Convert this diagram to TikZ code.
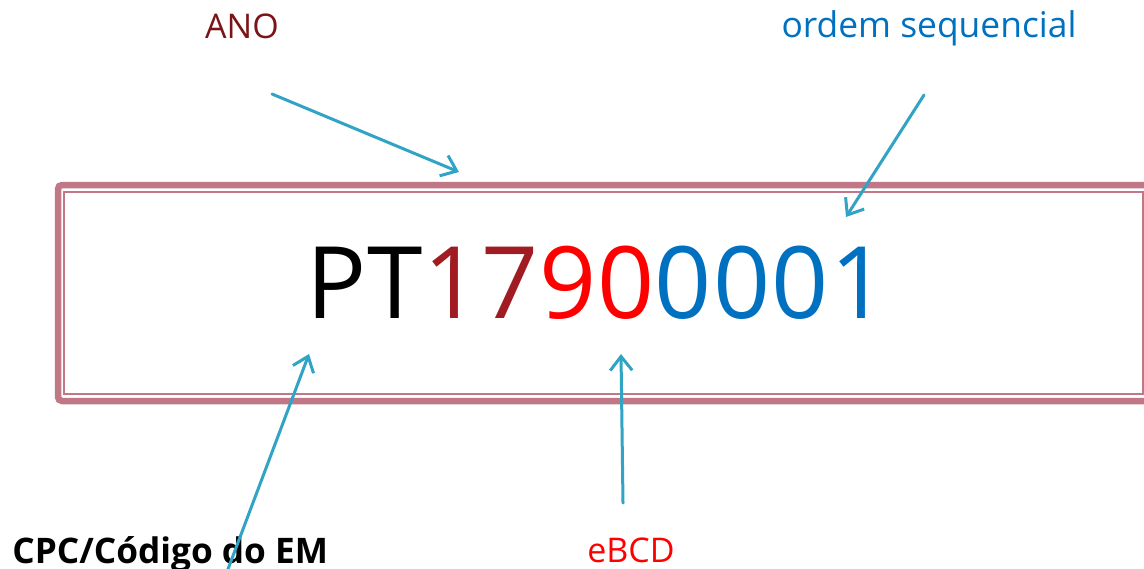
\documentclass[tikz,border=0pt]{standalone}
\usepackage{fontspec}
\setmainfont{Open Sans}
\usetikzlibrary{arrows.meta}
\definecolor{boxpink}{RGB}{192,120,135}
\definecolor{arrowcol}{RGB}{49,163,196}
\definecolor{anored}{RGB}{122,20,22}
\definecolor{darkred}{RGB}{160,28,34}
\definecolor{seqblue}{RGB}{0,112,192}
\tikzset{
  pointer/.style={draw=arrowcol, line width=1.5pt, line cap=round,
    -{Straight Barb[length=7pt,width=11pt,line width=1.5pt]}},
  lbl/.style={inner sep=0pt, font=\fontsize{17}{20}\selectfont},
}
\begin{document}
\begin{tikzpicture}[x=0.5pt,y=-0.5pt]
\useasboundingbox (0,0) rectangle (1144,568);
% frame
\draw[boxpink, line width=3.25pt, rounded corners=2pt] (58,185) rectangle (1160,401);
\draw[boxpink, line width=1.1pt] (64.3,191.7) rectangle (1143,393.7);
% code
\node[anchor=base, inner sep=0pt, font=\fontsize{50}{60}\selectfont\addfontfeature{LetterSpace=1.4}] (code) at (597,318)
  {PT\textcolor{darkred}{17}\textcolor{red}{90}\textcolor{seqblue}{0001}};
% labels
\node[lbl, anchor=base, text=anored] (ano) at (242,38) {ANO};
\node[lbl, anchor=base, text=seqblue, font=\fontsize{17.7}{20}\selectfont] (seq) at (929,37) {ordem sequencial};
\node[lbl, anchor=base west, font=\fontsize{17.6}{21}\selectfont\bfseries] (cpc) at (12,563) {CPC/Código do EM};
\node[lbl, anchor=base, text=red] (ebcd) at (631,562) {eBCD};
% arrow end points
\coordinate (anoS) at (272,94);
\coordinate (anoT) at (459,172);
\coordinate (seqS) at (924,95);
\coordinate (seqT) at (846,217);
\coordinate (cpcS) at (222,585);
\coordinate (cpcT) at (309,354);
\coordinate (ebcdS) at (623,503);
\coordinate (ebcdT) at (621,354);
\draw[pointer] (anoS) -- (anoT);
\draw[pointer] (seqS) -- (seqT);
\draw[pointer] (cpcS) -- (cpcT);
\draw[pointer] (ebcdS) -- (ebcdT);
\end{tikzpicture}
\end{document}
